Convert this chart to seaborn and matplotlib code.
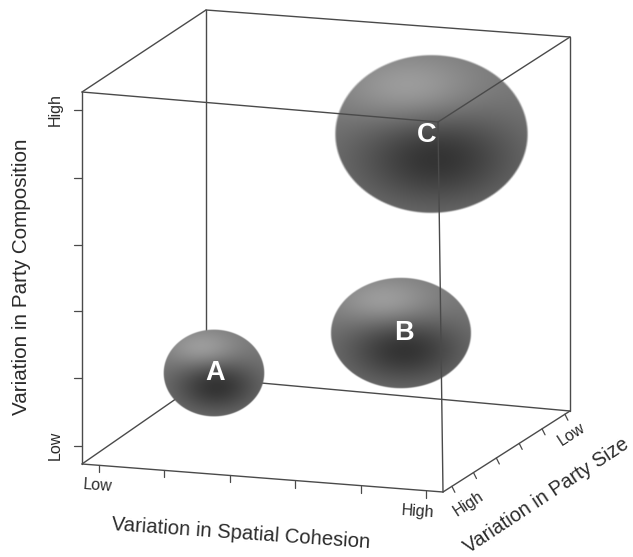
import numpy as np
import pandas as pd
import matplotlib
matplotlib.use("Agg")
import matplotlib.pyplot as plt
import seaborn as sns

sns.set_theme(style="white")
plt.rcParams['font.family'] = ['Liberation Sans', 'DejaVu Sans']

# Box corners as seen on the page
front_bottom_left = (82, 464)
front_bottom_right = (443, 492)
front_top_left = (82, 92)
front_top_right = (438, 122)
back_bottom_left = (206, 378)
back_bottom_right = (570, 411)
back_top_left = (206, 10)
back_top_right = (570, 37)

# Clusters
labels = ["B", "A", "C"]
centre_x = [401, 214, 431]
centre_y = [333, 373, 134]
width = [142, 102, 195]
height = [112, 88, 160]
label_x = [404, 215, 427]
label_y = [333, 373, 135]

# Tick levels along each axis
spatial_levels = [0.047, 0.228, 0.409, 0.59, 0.772, 0.953]
composition_levels = [0.048, 0.23, 0.41, 0.59, 0.77, 0.952]
size_levels = [0.07, 0.24, 0.42, 0.60, 0.78, 0.96]

LINE = "#4a4a4a"
W, H = 633, 557
fig = plt.figure(figsize=(W / 100, H / 100), dpi=100)
ax = fig.add_axes([0, 0, 1, 1])
ax.set_xlim(0, W)
ax.set_ylim(H, 0)
ax.axis("off")


def lerp(a, b, t):
    return (a[0] + (b[0] - a[0]) * t, a[1] + (b[1] - a[1]) * t)


def edges(pairs, start=0):
    rows = []
    for i, (a, b) in enumerate(pairs):
        rows += [dict(x=a[0], y=a[1], e=i + start), dict(x=b[0], y=b[1], e=i + start)]
    return pd.DataFrame(rows)


def draw(pairs, z, lw=1.0, color=LINE):
    sns.lineplot(data=edges(pairs), x="x", y="y", units="e", estimator=None, sort=False,
                 color=color, lw=lw, ax=ax, zorder=z, legend=False)


def bubble(cx, cy, w, h, z):
    n = 300
    xs = np.linspace(-1, 1, n)
    X, Y = np.meshgrid(xs, xs)
    core2 = ((X - 0.05) / 0.85) ** 2 + ((Y - 0.30) / 0.62) ** 2
    g = 0.20 + 0.27 * (1 - np.exp(-core2))
    lift = np.exp(-(((X + 0.22) / 0.7) ** 2 + ((Y + 0.55) / 0.45) ** 2))
    g = g + 0.17 * lift
    rgba = np.dstack([g, g, g, np.clip((1 - np.hypot(X, Y)) * 45, 0, 1)])
    ax.imshow(rgba, extent=[cx - w / 2, cx + w / 2, cy + h / 2, cy - h / 2],
              zorder=z, interpolation="bilinear", aspect="auto")


for cx, cy, w, h, name in zip(centre_x, centre_y, width, height, labels):
    bubble(cx, cy, w, h, 3)

ax.set_xlim(0, W)
ax.set_ylim(H, 0)

# edges behind the clusters
draw([(front_bottom_left, back_bottom_left), (back_bottom_left, back_top_left),
      (back_bottom_left, back_bottom_right), (back_bottom_right, back_top_right)], 2)
# edges over the clusters
draw([(front_bottom_left, front_top_left), (front_top_left, front_top_right),
      (front_top_left, back_top_left), (back_top_left, back_top_right),
      (front_top_right, back_top_right), (front_top_right, front_bottom_right),
      (front_bottom_left, front_bottom_right), (front_bottom_right, back_bottom_right)], 4)

# ticks
tx = [lerp(front_bottom_left, front_bottom_right, t) for t in spatial_levels]
draw([(p, (p[0], p[1] + 7)) for p in tx], 4, lw=0.9)
ty = [lerp(front_bottom_left, front_top_left, t) for t in composition_levels]
draw([(p, (p[0] - 8, p[1])) for p in ty], 4, lw=0.9)
tz = [lerp(front_bottom_right, back_bottom_right, t) for t in size_levels]
draw([(p, (p[0] + 3, p[1] + 6)) for p in tz], 4, lw=0.9)

for n, x, y in zip(labels, label_x, label_y):
    ax.text(x, y, n, color="white", fontsize=19.5, fontweight="bold",
            ha="center", va="center", zorder=6)

TXT = "#2b2b2b"
TICK = 11.5
ax.text(98, 486, "Low", fontsize=TICK, color=TXT, rotation=-4, ha="center", va="center")
ax.text(418, 512, "High", fontsize=TICK, color=TXT, rotation=-4, ha="center", va="center")
ax.text(55, 110, "High", fontsize=TICK, color=TXT, rotation=90, ha="center", va="center")
ax.text(55, 445, "Low", fontsize=TICK, color=TXT, rotation=90, ha="center", va="center")
ax.text(468, 504, "High", fontsize=TICK, color=TXT, rotation=33, ha="center", va="center")
ax.text(572, 434, "Low", fontsize=TICK, color=TXT, rotation=33, ha="center", va="center")
ax.text(241, 534, "Variation in Spatial Cohesion", fontsize=14.6, color=TXT, rotation=-4,
        ha="center", va="center", rotation_mode="anchor")
ax.text(22, 277, "Variation in Party Composition", fontsize=14.9, color=TXT, rotation=90,
        ha="center", va="center")
ax.text(546, 496, "Variation in Party Size", fontsize=14.2, color=TXT, rotation=33.5,
        ha="center", va="center", rotation_mode="anchor")

fig.savefig("out.png", dpi=100, facecolor="white")
